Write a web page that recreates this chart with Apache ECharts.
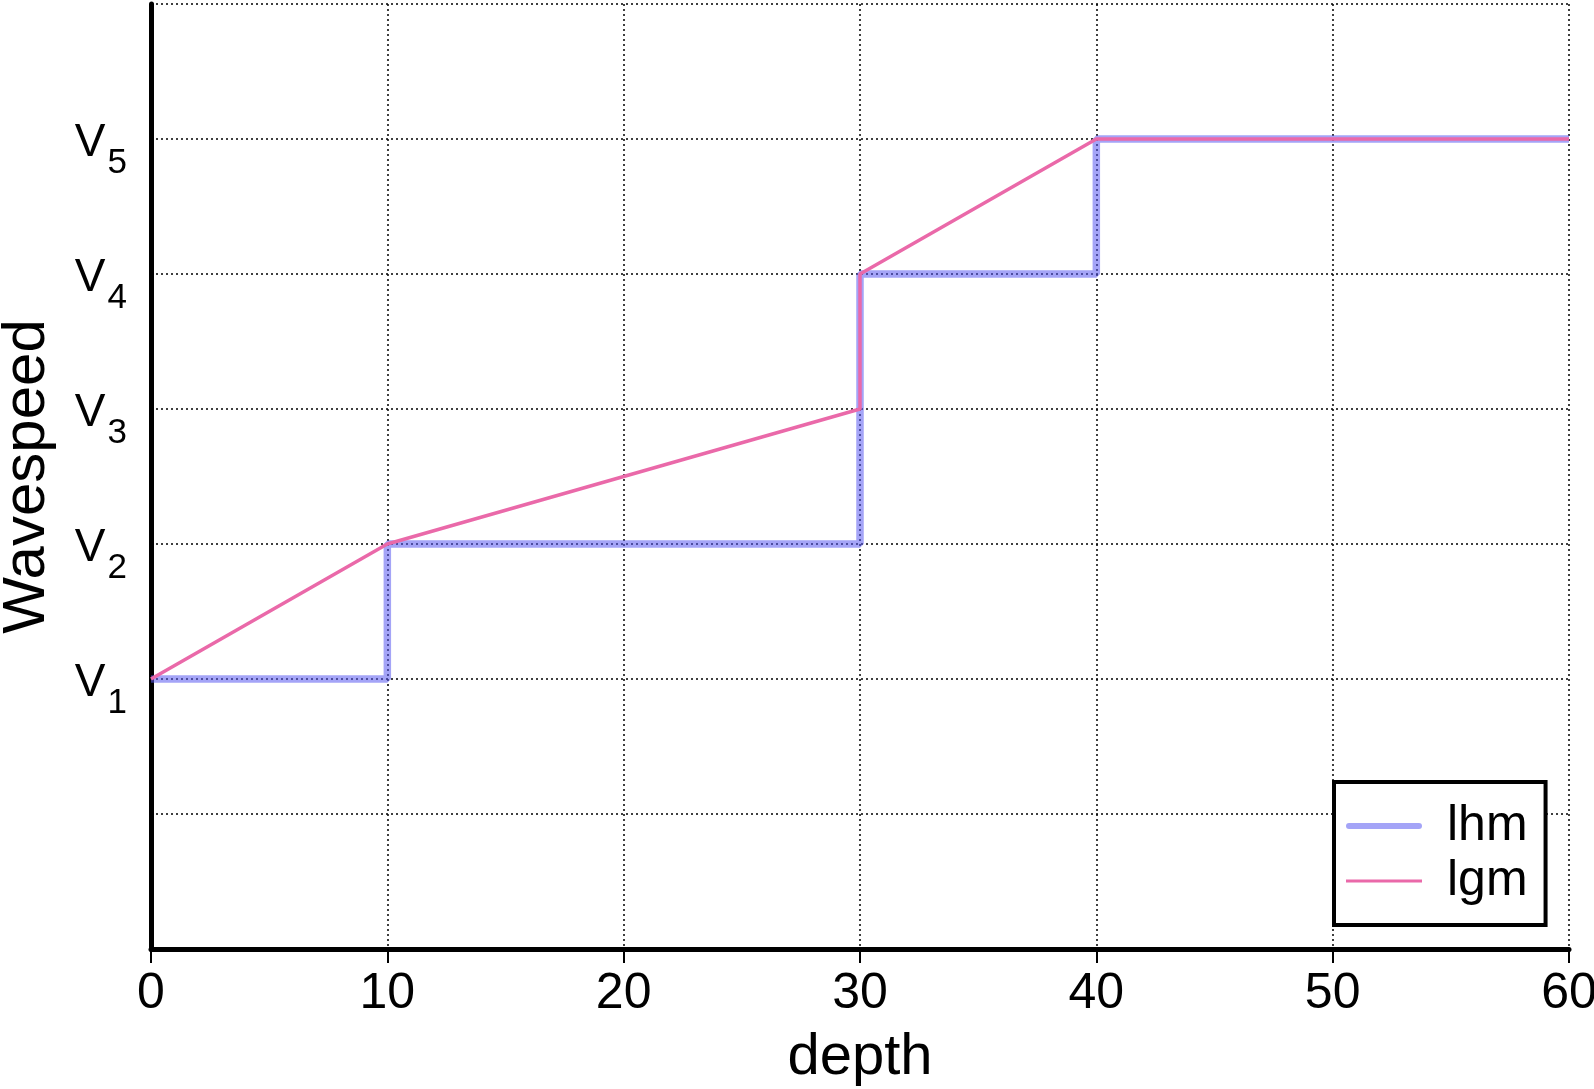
<!DOCTYPE html>
<html>
<head>
<meta charset="utf-8">
<style>
html,body{margin:0;padding:0;background:#fff;}
#chart{width:1594px;height:1089px;}
</style>
<script src="https://cdn.jsdelivr.net/npm/echarts@6/dist/echarts.min.js"></script>
</head>
<body>
<div id="chart"></div>
<script>
// Data
const lhmDepth = [0, 10, 10, 30, 30, 40, 40, 60];
const lhmSpeed = [1, 1, 2, 2, 4, 4, 5, 5];
const lgmDepth = [0, 10, 30, 30, 40, 60];
const lgmSpeed = [1, 2, 3, 4, 5, 5];
const speedTickValues = [1, 2, 3, 4, 5];
const speedTickLabels = ['1', '2', '3', '4', '5']; // subscripts of V
const seriesNames = ['lhm', 'lgm'];

const FONT = 'Liberation Sans';
const BLUE = 'rgba(90,90,240,0.55)';
const PINK = '#ea69a9';
const chart = echarts.init(document.getElementById('chart'));

function zip(xs, ys) { return xs.map((x, i) => [x, ys[i]]); }

chart.setOption({
  animation: false,
  backgroundColor: '#fff',
  textStyle: { fontFamily: FONT, color: '#000' },
  grid: { left: 151, right: 25, top: 4, bottom: 140, containLabel: false, outerBoundsMode: 'none' },
  legend: {
    data: [
      { name: seriesNames[0], icon: 'path://M3,0H73A3,3 0 0 1 73,6H3A3,3 0 0 1 3,0Z' },
      { name: seriesNames[1], icon: 'path://M0,0H76V3H0Z' },
    ],
    orient: 'vertical',
    left: 1334,
    top: 782,
    padding: [19, 18, 19, 12],
    itemGap: 5,
    itemWidth: 76,
    itemHeight: 20,
    symbolKeepAspect: true,
    borderColor: '#000',
    borderWidth: 4,
    borderRadius: 0,
    backgroundColor: '#fff',
    textStyle: { fontFamily: FONT, fontSize: 50, color: '#000', padding: [0, 0, 0, 20] },
  },
  xAxis: {
    type: 'value',
    min: 0, max: 60, interval: 10,
    name: 'depth',
    nameLocation: 'middle',
    nameGap: 80,
    nameTextStyle: { fontFamily: FONT, fontSize: 58, color: '#000' },
    axisLine: { show: true, onZero: false, lineStyle: { color: '#000', width: 5 } },
    axisTick: { show: true, length: 14, lineStyle: { color: '#000', width: 2 } },
    axisLabel: { fontFamily: FONT, fontSize: 50, color: '#000', margin: 20 },
    splitLine: { show: true, lineStyle: { color: '#000', width: 1.5, type: [2, 3] } },
  },
  yAxis: {
    type: 'value',
    min: -1, max: 6, interval: 1,
    name: 'Wavespeed',
    nameLocation: 'middle',
    nameGap: 94,
    nameRotate: 90,
    nameTextStyle: { fontFamily: FONT, fontSize: 60, color: '#000' },
    axisLine: { show: true, onZero: false, lineStyle: { color: '#000', width: 5 } },
    axisTick: { show: false },
    axisLabel: {
      margin: 24,
      formatter: function (v) {
        const i = speedTickValues.indexOf(v);
        if (i < 0) return '';
        return '{v|V}{s|' + speedTickLabels[i] + '}';
      },
      rich: {
        v: { fontFamily: FONT, fontSize: 46, color: '#000', lineHeight: 46, padding: [4, 0, 0, 0], verticalAlign: 'top' },
        s: { fontFamily: FONT, fontSize: 35, color: '#000', lineHeight: 30, padding: [30, 0, 10, 2], verticalAlign: 'top' },
      },
    },
    splitLine: { show: true, lineStyle: { color: '#000', width: 1.5, type: [2, 3] } },
  },
  series: [
    {
      name: seriesNames[0],
      type: 'line',
      data: zip(lhmDepth, lhmSpeed),
      showSymbol: false,
      symbol: 'none',
      lineStyle: { color: BLUE, width: 7.5 },
      itemStyle: { color: BLUE },
      z: 2,
    },
    {
      name: seriesNames[1],
      type: 'line',
      data: zip(lgmDepth, lgmSpeed),
      showSymbol: false,
      symbol: 'none',
      lineStyle: { color: PINK, width: 3.5 },
      itemStyle: { color: PINK },
      z: 3,
    },
  ],
});
</script>
</body>
</html>
